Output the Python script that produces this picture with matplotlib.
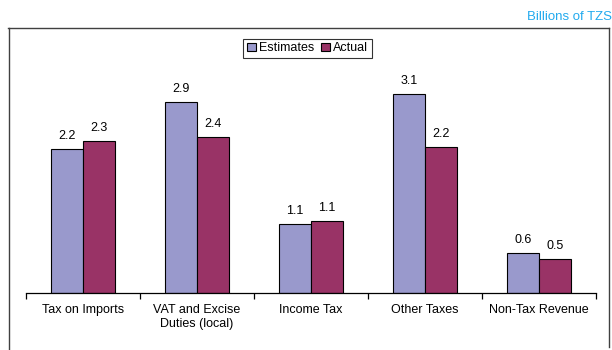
import matplotlib
matplotlib.use("Agg")
import matplotlib.pyplot as plt
import numpy as np
from matplotlib.patches import Patch
from matplotlib.lines import Line2D

plt.rcParams['font.family'] = ['Liberation Sans', 'DejaVu Sans']

categories = ["Tax on Imports", "VAT and Excise\nDuties (local)", "Income Tax", "Other Taxes", "Non-Tax Revenue"]
estimates = [2.19, 2.90, 1.04, 3.02, 0.61]
actual = [2.31, 2.37, 1.09, 2.21, 0.51]
estimate_labels = ["2.2", "2.9", "1.1", "3.1", "0.6"]
actual_labels = ["2.3", "2.4", "1.1", "2.2", "0.5"]

W, H = 612, 350
fig = plt.figure(figsize=(W / 100, H / 100), dpi=100)

# axes placement in pixels
ax_left, ax_right = 26, 596
ax_bottom_px, ax_top_px = 292.7, 40
ax = fig.add_axes([ax_left / W, 1 - ax_bottom_px / H, (ax_right - ax_left) / W, (ax_bottom_px - ax_top_px) / H])

x = np.arange(len(categories))
bw = 0.285
c_est = "#9999CC"
c_act = "#993366"
b1 = ax.bar(x - bw / 2, estimates, bw, color=c_est, edgecolor="black", linewidth=0.8)
b2 = ax.bar(x + bw / 2, actual, bw, color=c_act, edgecolor="black", linewidth=0.8)

for rect, lab in zip(b1, estimate_labels):
    ax.annotate(lab, (rect.get_x() + rect.get_width() / 2, rect.get_height()),
                xytext=(0, 5), textcoords="offset points", ha="center", va="bottom", fontsize=9)
for rect, lab in zip(b2, actual_labels):
    ax.annotate(lab, (rect.get_x() + rect.get_width() / 2, rect.get_height()),
                xytext=(0, 5), textcoords="offset points", ha="center", va="bottom", fontsize=9)

ax.set_xlim(-0.5, len(categories) - 0.5)
ax.set_ylim(0, (ax_bottom_px - ax_top_px) / 65.8)
for s in ["left", "right", "top"]:
    ax.spines[s].set_visible(False)
ax.spines["bottom"].set_linewidth(0.9)
ax.set_yticks([])
ax.set_xticks(x)
ax.set_xticklabels(categories, fontsize=9, linespacing=1.25)
ax.tick_params(axis="x", which="major", length=0, pad=8)
ax.set_xticks(np.arange(-0.5, len(categories)), minor=True)
ax.tick_params(axis="x", which="minor", length=4, width=0.9, direction="out")

# outer frame
fc = "#404040"
fig.add_artist(Line2D([8 / W, 609 / W], [1 - 27.5 / H, 1 - 27.5 / H], color=fc, lw=1.0))
fig.add_artist(Line2D([8.5 / W, 8.5 / W], [1 - 27.5 / H, 0], color=fc, lw=1.0))
fig.add_artist(Line2D([609 / W, 609 / W], [1 - 27.5 / H, 1 - 347 / H], color=fc, lw=1.0))

fig.text(612 / W, 1 - 16.5 / H, "Billions of TZS", color="#22AAEE", fontsize=9.5, ha="right", va="center")

handles = [Patch(facecolor=c_est, edgecolor="black", linewidth=0.8),
           Patch(facecolor=c_act, edgecolor="black", linewidth=0.8)]
leg = fig.legend(handles, ["Estimates", "Actual"], loc="center", bbox_to_anchor=(307.5 / W, 1 - 48.3 / H),
                 ncol=2, fontsize=9, frameon=True, fancybox=False, edgecolor="black",
                 handlelength=0.7, handleheight=0.7, handletextpad=0.25, columnspacing=0.6,
                 borderpad=0.3, borderaxespad=0)
leg.get_frame().set_linewidth(0.8)

fig.savefig("out.png", dpi=100)
